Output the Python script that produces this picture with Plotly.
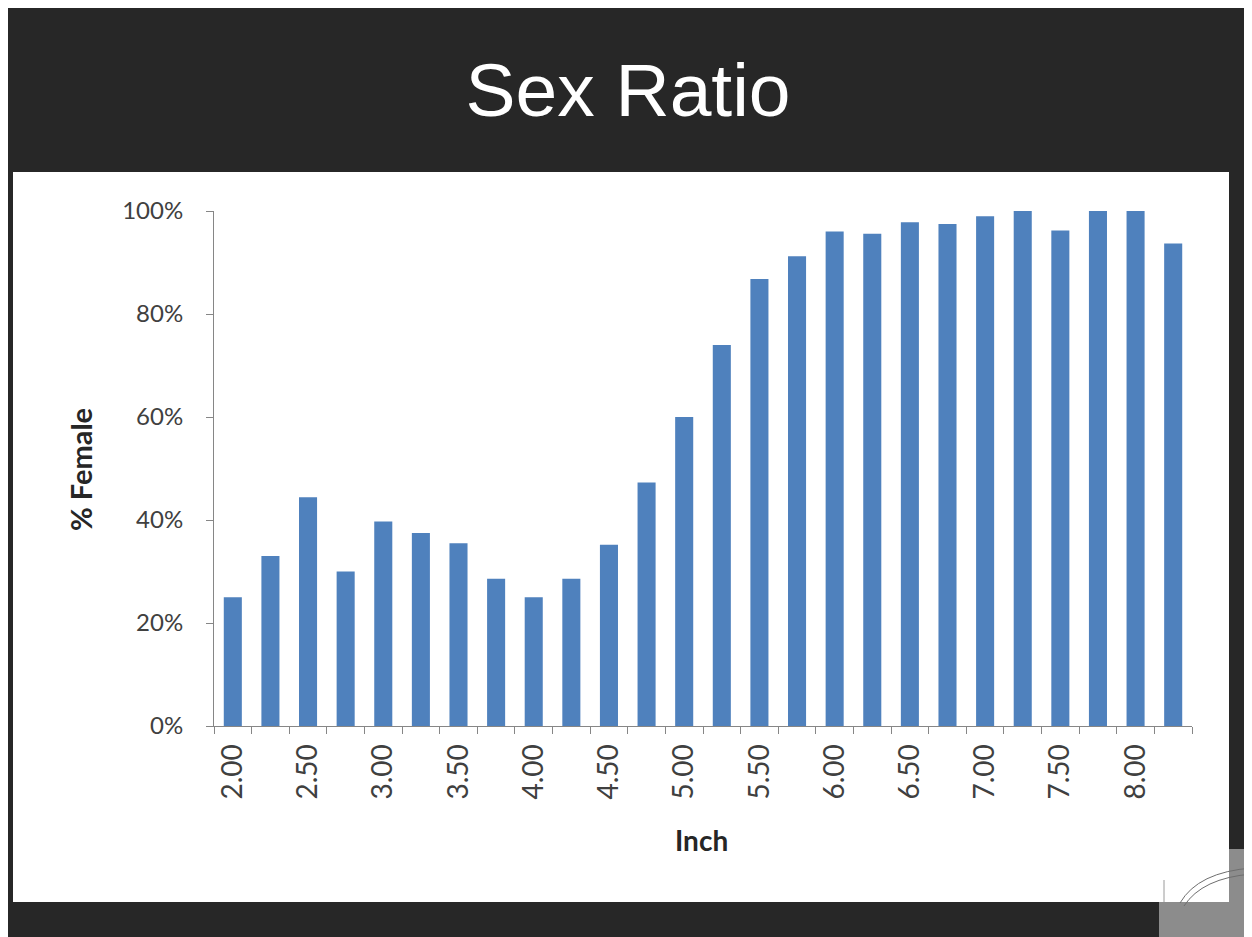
import plotly.graph_objects as go

# ---- data ----
inches = ["2.00", "2.25", "2.50", "2.75", "3.00", "3.25", "3.50", "3.75", "4.00", "4.25",
          "4.50", "4.75", "5.00", "5.25", "5.50", "5.75", "6.00", "6.25", "6.50", "6.75",
          "7.00", "7.25", "7.50", "7.75", "8.00", "8.25"]
pct_female = [0.25, 0.33, 0.444, 0.30, 0.397, 0.375, 0.355, 0.286, 0.25, 0.286,
              0.352, 0.473, 0.60, 0.74, 0.868, 0.912, 0.96, 0.956, 0.978, 0.975,
              0.99, 1.00, 0.962, 1.00, 1.00, 0.937]
x_tick_text = [c if i % 2 == 0 else "" for i, c in enumerate(inches)]
y_tick_vals = [0, 0.2, 0.4, 0.6, 0.8, 1.0]
y_tick_text = ["0%", "20%", "40%", "60%", "80%", "100%"]

OFF = 8                     # page body margin
W, H = 1252 - OFF, 937 - OFF
L, R = 214 - OFF, 1192 - OFF   # plot area left/right pixels (figure coords)
T, B = 211 - OFF, 726 - OFF    # plot area top/bottom pixels


def px(x):
    """screen x pixel -> paper coordinate"""
    return (x - OFF - L) / (R - L)


def py(y):
    """screen y pixel -> paper coordinate"""
    return (B - (y - OFF)) / (B - T)


fig = go.Figure()
fig.add_trace(go.Bar(
    x=inches, y=pct_female,
    marker=dict(color="#4F81BD", line=dict(width=0)),
    hovertemplate="%{x}: %{y:.0%}<extra></extra>",
))

axis_col = "#868686"
font_fam = "Lato, Carlito, Calibri, sans-serif"

shapes = [
    # dark slide background
    dict(type="rect", xref="paper", yref="paper", x0=px(0), x1=px(1260), y0=py(0), y1=py(945),
         fillcolor="#272727", line=dict(width=0), layer="below"),
    # white chart panel
    dict(type="rect", xref="paper", yref="paper", x0=px(13), x1=px(1229), y0=py(172), y1=py(902),
         fillcolor="white", line=dict(width=0), layer="below"),
    # grey decoration in the bottom-right corner
    dict(type="rect", xref="paper", yref="paper", x0=px(1159), x1=px(1260), y0=py(902), y1=py(945),
         fillcolor="#8c8c8c", line=dict(width=0), layer="below"),
    dict(type="rect", xref="paper", yref="paper", x0=px(1229), x1=px(1260), y0=py(849), y1=py(945),
         fillcolor="#8c8c8c", line=dict(width=0), layer="below"),
    # faint arcs of the slide ornament
    dict(type="path", xref="paper", yref="paper",
         path=f"M {px(1180)},{py(903)} Q {px(1198)},{py(872)} {px(1252)},{py(868)}",
         line=dict(color="#6e6e6e", width=1), layer="above"),
    dict(type="path", xref="paper", yref="paper",
         path=f"M {px(1184)},{py(906)} Q {px(1202)},{py(878)} {px(1252)},{py(874)}",
         line=dict(color="#6e6e6e", width=1), layer="above"),
    dict(type="line", xref="paper", yref="paper", x0=px(1164), x1=px(1164), y0=py(880), y1=py(902),
         line=dict(color="#9a9a9a", width=1), layer="above"),
]

fig.update_layout(
    width=W, height=H, autosize=False,
    margin=dict(l=L, r=W - R, t=T, b=H - B, pad=0),
    paper_bgcolor="#272727",
    plot_bgcolor="white",
    showlegend=False,
    bargap=0.52,
    shapes=shapes,
    title=dict(
        text="Sex Ratio", x=(628 - OFF) / W, xanchor="center", xref="container",
        y=1 - (90 - OFF) / H, yanchor="middle", yref="container",
        font=dict(family="Liberation Sans, Arial, sans-serif", size=75, color="white"),
    ),
    xaxis=dict(
        type="category", tickmode="array", tickvals=inches, ticktext=x_tick_text,
        tickson="boundaries", ticks="outside", ticklen=7, tickcolor=axis_col, tickwidth=1,
        showline=True, linecolor=axis_col, linewidth=1, showgrid=False,
        tickangle=-90, tickfont=dict(family=font_fam, size=28, color="#404040"),
        ticklabelstandoff=6, zeroline=False, fixedrange=True,
    ),
    yaxis=dict(
        range=[0, 1.0], tickmode="array", tickvals=y_tick_vals, ticktext=y_tick_text,
        ticks="outside", ticklen=7, tickcolor=axis_col, tickwidth=1,
        showline=True, linecolor=axis_col, linewidth=1, showgrid=False, zeroline=False,
        tickfont=dict(family=font_fam, size=24, color="#404040"),
        ticklabelstandoff=18, fixedrange=True,
    ),
    annotations=[
        dict(text="<b>% Female</b>", xref="paper", yref="paper", x=px(80), y=py(470),
             xanchor="center", yanchor="middle", textangle=-90, showarrow=False,
             font=dict(family=font_fam, size=29, color="#262626")),
        dict(text="<b>Inch</b>", xref="paper", yref="paper", x=px(701), y=py(840),
             xanchor="center", yanchor="middle", showarrow=False,
             font=dict(family=font_fam, size=28, color="#262626")),
    ],
)

fig.write_html("out.html")
